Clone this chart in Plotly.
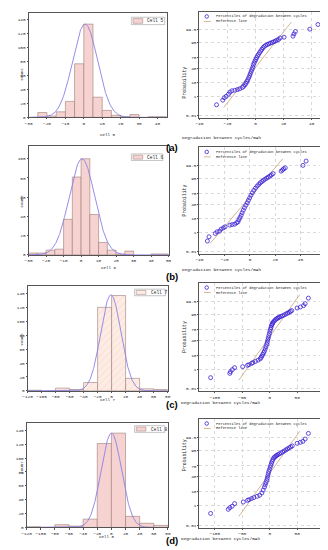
import numpy as np
import plotly.graph_objects as go
from statistics import NormalDist

W, H = 328, 550
ND = NormalDist()

# ---------------- histogram data (bin left edges, counts) ----------------
cell5_bins = [-25, -20, -15, -10, -5, 0, 5, 10, 15, 20, 25, 35, 40]
cell5_counts = [7, 2, 8, 23, 77, 134, 29, 10, 3, 1, 4, 1, 1]
cell6_bins = [-30, -25, -20, -15, -10, -5, 0, 5, 10, 15, 20, 25, 40, 45]
cell6_counts = [2, 2, 5, 6, 37, 81, 100, 42, 13, 5, 1, 4, 1, 1]
cell7_bins = [-120, -80, -60, -40, -20, 0, 20, 40, 60]
cell7_counts = [1, 4, 2, 12, 120, 137, 18, 3, 2]
cell8_bins = [-120, -80, -60, -40, -20, 0, 20, 40, 60]
cell8_counts = [1, 4, 2, 12, 121, 136, 16, 6, 3]
bin_widths = [5, 5, 20, 20]
cell_names = ["Cell 5", "Cell 6", "Cell 7", "Cell 8"]

# fitted normal curve parameters (mean, sd, peak count)
fit_mean = [0.7, 0.5, -1.0, 0.0]
fit_sd = [6.8, 7.3, 14.5, 14.5]
fit_peak = [134, 100, 138, 136]

# histogram tick labels
hist_xticks = [list(range(-30, 41, 10)), list(range(-30, 51, 10)),
               list(range(-120, 81, 20)), list(range(-120, 81, 20))]
hist_yticks = [list(range(0, 141, 20)), list(range(0, 101, 20)),
               list(range(0, 141, 20)), list(range(0, 141, 20))]

# ---------------- probability plot data (degradation mAh, percentile %) ----------------
cell5_deg = [-27.8, -23.4, -22.3, -20.9, -19.3, -18.2, -16.8, -14.7, -12.9, -11.3, -9.4,
             -8.5, -7.5, -6.8, -6.2, -5.5, -4.8, -4.2, -3.7, -3.1, -2.5, -2.0, -1.6, -1.0,
             -0.4, 0.2, 0.75, 1.4, 2.1, 2.9, 3.7, 4.5, 5.3, 6.2, 7.2,
             8.3, 9.5, 10.6, 11.8, 13.0, 14.1, 15.2, 16.4, 17.5,
             20.3, 26.7, 27.4, 28.4, 38.7, 44.5]
cell5_pct = [0.164, 0.466, 0.776, 1.04, 1.54, 2.22, 2.81, 3.07, 3.44, 3.92, 4.75,
             5.7, 7.1, 8.8, 10.9, 13.5, 17.4, 21.5, 26.1, 31.5, 37.1, 43.0, 50.0, 55.5,
             61.0, 65.5, 70.2, 74.5, 78.0, 81.5, 84.6, 87.2, 89.6, 91.2, 92.4,
             93.2, 93.9, 94.5, 95.0, 95.5, 96.0, 96.5, 96.9, 97.6,
             97.9, 98.26, 98.87, 99.29, 99.57, 99.85]

cell6_deg = [-33.7, -32.4, -27.4, -26.1, -24.0, -22.8, -21.0, -19.7, -15.9, -14.1, -12.1, -10.6,
             -9.5, -8.7, -7.9, -7.0, -6.2, -5.3, -4.3, -3.2, -2.2, -1.2, -0.2, 0.8, 1.9, 3.1,
             4.4, 5.7, 7.0, 8.2, 9.5, 10.7, 12.0, 13.3, 14.5, 15.8, 17.0, 18.3,
             24.7, 25.8, 26.7, 28.0, 42.0, 44.5]
cell6_pct = [0.164, 0.427, 0.842, 1.16, 1.32, 1.92, 2.39, 2.87, 3.75, 4.09, 4.36, 5.37,
             6.18, 8.38, 11.1, 14.5, 18.9, 24.5, 30.5, 37.1, 44.0, 51.2, 58.3, 65.5, 71.9, 77.6,
             82.1, 85.8, 88.3, 90.5, 91.9, 93.2, 94.2, 95.1, 95.7, 96.4, 97.0, 97.6,
             98.46, 98.75, 99.01, 99.18, 99.51, 99.81]

cell7_deg = [-107.6, -72.7, -71.5, -68.0, -64.0, -49.3, -40.5, -37.7, -33.0, -30.7, -26.0, -21.3,
             -17.3, -15.8, -14.3, -12.8, -11.2, -9.7, -8.3, -6.9, -5.5, -4.6, -3.6, -2.7, -1.7,
             -0.7, 0.3, 1.3, 2.2, 3.2, 4.1, 5.0, 6.0, 8.0, 10.0, 12.0, 14.0, 15.9, 17.8, 20.6,
             23.5, 26.5, 29.5, 32.4, 35.3, 37.7, 40.0,
             49.8, 55.7, 61.5, 64.4, 70.3]
cell7_pct = [0.181, 0.466, 0.657, 0.99, 1.43, 1.70, 2.17, 2.39, 3.01, 3.36, 4.09, 4.95,
             6.06, 7.35, 8.69, 10.75, 13.1, 15.9, 20.0, 24.8, 30.2, 35.9, 42.1, 48.0, 54.4,
             60.6, 66.6, 71.6, 75.8, 80.0, 82.1, 84.1, 85.8, 87.7, 89.25, 90.5, 91.3, 92.1, 92.65, 93.3,
             93.9, 94.6, 95.25, 95.8, 96.3, 96.8, 97.2,
             98.2, 98.5, 98.84, 99.2, 99.75]

cell8_deg = [-107.6, -75.5, -72.7, -68.5, -64.0, -48.2, -40.5, -37.7, -33.0, -29.0, -23.0, -18.5,
             -14.3, -12.0, -9.7, -8.3, -6.9, -5.5, -4.6, -3.6, -2.7, -1.8, -0.5, 0.8, 2.0, 3.2,
             4.3, 5.8, 7.3, 9.2, 11.0, 12.9, 14.8, 17.7, 20.6, 23.5, 26.4, 29.4, 32.3, 35.2, 38.1, 41.0,
             49.8, 55.7, 60.3, 64.4, 70.3]
cell8_pct = [0.20, 0.49, 0.69, 0.91, 1.50, 1.97, 2.62, 2.94, 3.51, 4.09, 4.95, 5.71,
             7.93, 11.5, 16.1, 20.3, 25.1, 30.5, 36.3, 42.5, 48.8, 55.2, 61.0, 67.0, 71.9, 76.7,
             80.8, 83.9, 86.6, 87.9, 89.1, 90.1, 91.0, 91.9, 92.9, 93.7, 94.5, 95.35, 96.0, 96.6, 97.1, 97.5,
             98.42, 98.68, 98.9, 99.3, 99.79]

# reference lines (end points: degradation, percentile %)
ref_x = [[-22.7, 25.6], [-31.6, 26.0], [-56.3, 54.5], [-56.3, 54.5]]
ref_p = [[0.087, 99.92], [0.09, 99.89], [0.10, 99.89], [0.10, 99.87]]

prob_ticks = [0.01, 1, 10, 40, 70, 95, 99.5]
prob_tick_text = ["0.01", "1", "10", "40", "70", "95", "99.5"]
prob_xticks = [list(range(-40, 41, 20)), list(range(-40, 61, 20)),
               [-100, -50, 0, 50, 100], [-100, -50, 0, 50, 100]]
panel_labels = ["(a)", "(b)", "(c)", "(d)"]

hist_bins = [cell5_bins, cell6_bins, cell7_bins, cell8_bins]
hist_counts = [cell5_counts, cell6_counts, cell7_counts, cell8_counts]
prob_deg = [cell5_deg, cell6_deg, cell7_deg, cell8_deg]
prob_pct = [cell5_pct, cell6_pct, cell7_pct, cell8_pct]

# ---------------- layout (pixel boxes) ----------------
hist_box = [(16, 158, 5, 110), (16, 160, 139, 248.3), (15, 159, 280, 385), (14, 159.3, 417.7, 522.3)]
hist_xrange = [[-30, 45], [-30, 50], [-120, 80], [-120, 80]]
hist_yrange = [[0, 150], [0, 113], [0, 150], [0, 150]]
hist_leg = [(121.7, 156, 9.3, 16.7), (121.7, 154, 146.7, 153.3), (125, 156.7, 282.7, 289.3), (125, 156, 420, 426.7)]
prob_box = [(191.7, 321.5, 4, 110.3), (191.7, 321.5, 140.2, 247.4), (191.7, 320.5, 276.6, 385.4), (191.7, 320.5, 413.3, 522.4)]
prob_xrange = [[-40, 50], [-40, 60], [-128, 100], [-128, 100]]
label_y = [133, 270, 406, 543]

MONO = "Liberation Mono"
TXT = "#222222"
FILL = "#f6d3d0"
FILL7 = "#fdece4"
HATCH = "#eeb3a3"
EDGE = "#9c7c7a"
CURVE = "#8b80e8"
BLUE = "#3b22d6"
TAN = "#c9a27b"
FRAME = "#555555"

ZLIM = 3.89


def PX(x):
    return x / W


def PY(y):
    return 1 - y / H


def ax_common(box, horizontal):
    l, r, t, b = box
    dom = [PX(l), PX(r)] if horizontal else [PY(b), PY(t)]
    return dict(domain=dom, showline=True, mirror=True, linecolor=FRAME, linewidth=0.7,
                ticks="outside", ticklen=1.2, tickwidth=0.6, tickcolor=FRAME,
                tickfont=dict(family=MONO, size=4.4, color=TXT), zeroline=False,
                showgrid=False, fixedrange=True)


fig = go.Figure()
lay = dict(width=W, height=H, margin=dict(l=0, r=0, t=0, b=0), paper_bgcolor="white",
           plot_bgcolor="white", showlegend=False, shapes=[], annotations=[])

for i in range(4):
    hx, hy = f"x{2*i+1}", f"y{2*i+1}"
    px_, py_ = f"x{2*i+2}", f"y{2*i+2}"
    w = bin_widths[i]
    centers = [b + w / 2 for b in hist_bins[i]]
    if i == 2:
        marker = dict(color=FILL7, line=dict(color=EDGE, width=0.6),
                      pattern=dict(shape="/", fgcolor=HATCH, bgcolor=FILL7, size=5,
                                   solidity=0.12, fillmode="overlay"))
    else:
        marker = dict(color=FILL, line=dict(color=EDGE, width=0.6))
    fig.add_trace(go.Bar(x=centers, y=hist_counts[i], width=w, marker=marker,
                         xaxis=hx, yaxis=hy))
    xs = np.linspace(hist_xrange[i][0], hist_xrange[i][1], 400)
    ys = fit_peak[i] * np.exp(-0.5 * ((xs - fit_mean[i]) / fit_sd[i]) ** 2)
    fig.add_trace(go.Scatter(x=xs, y=ys, mode="lines", line=dict(color=CURVE, width=0.9),
                             xaxis=hx, yaxis=hy))

    # probability plot
    rz = [ND.inv_cdf(p / 100) for p in ref_p[i]]
    fig.add_trace(go.Scatter(x=ref_x[i], y=rz, mode="lines", line=dict(color=TAN, width=0.8),
                             xaxis=px_, yaxis=py_))
    z = [ND.inv_cdf(p / 100) for p in prob_pct[i]]
    fig.add_trace(go.Scatter(x=prob_deg[i], y=z, mode="markers",
                             marker=dict(symbol="circle-open", size=4, color=BLUE,
                                         line=dict(width=0.8, color=BLUE)),
                             xaxis=px_, yaxis=py_, cliponaxis=False))

    # axes
    hb = hist_box[i]
    xa = ax_common(hb, True)
    xa.update(range=hist_xrange[i], tickvals=hist_xticks[i], anchor=hy)
    ya = ax_common(hb, False)
    ya.update(range=hist_yrange[i], tickvals=hist_yticks[i], anchor=hx)
    lay["xaxis" if i == 0 else f"xaxis{2*i+1}"] = xa
    lay["yaxis" if i == 0 else f"yaxis{2*i+1}"] = ya

    pb = prob_box[i]
    xa2 = ax_common(pb, True)
    xa2.update(range=prob_xrange[i], tickvals=prob_xticks[i], anchor=py_,
               showgrid=True, gridcolor="#d9d9d9", gridwidth=0.5, griddash="dot")
    ya2 = ax_common(pb, False)
    ya2.update(range=[-ZLIM, ZLIM], tickvals=[ND.inv_cdf(p / 100) for p in prob_ticks],
               ticktext=prob_tick_text, anchor=px_,
               showgrid=True, gridcolor="#d9d9d9", gridwidth=0.5, griddash="dot")
    lay[f"xaxis{2*i+2}"] = xa2
    lay[f"yaxis{2*i+2}"] = ya2

    # axis titles
    l, r, t, b = hb
    lay["annotations"].append(dict(text=cell_names[i], x=PX((l + r) / 2), y=PY(b + 13.5),
                                   xref="paper", yref="paper", showarrow=False,
                                   font=dict(family=MONO, size=4.2, color=TXT)))
    lay["annotations"].append(dict(text="Count", x=PX(5.0), y=PY((t + b) / 2), textangle=-90,
                                   xref="paper", yref="paper", showarrow=False,
                                   font=dict(family=MONO, size=4.2, color=TXT)))
    l2, r2, t2, b2 = pb
    lay["annotations"].append(dict(text="Degradation between cycles/mAh", x=PX((l2 + r2) / 2),
                                   y=PY(b2 + 15.5), xref="paper", yref="paper", showarrow=False,
                                   font=dict(family=MONO, size=4.4, color=TXT)))
    lay["annotations"].append(dict(text="Probability", x=PX(176.5), y=PY((t2 + b2) / 2),
                                   textangle=-90, xref="paper", yref="paper", showarrow=False,
                                   font=dict(family=MONO, size=4.8, color=TXT)))
    lay["annotations"].append(dict(text="<b>" + panel_labels[i] + "</b>", x=PX(163),
                                   y=PY(label_y[i]), xref="paper", yref="paper", showarrow=False,
                                   font=dict(family="Liberation Sans", size=9.5, color="#000")))

    # histogram legend
    L, R, T, B = hist_leg[i]
    lay["shapes"].append(dict(type="rect", xref="paper", yref="paper", x0=PX(L), x1=PX(R),
                              y0=PY(B), y1=PY(T), line=dict(color="#8a8a8a", width=0.5),
                              fillcolor="white"))
    lay["shapes"].append(dict(type="rect", xref="paper", yref="paper", x0=PX(L + 1.7),
                              x1=PX(L + 11.7), y0=PY(B - 1.3), y1=PY(T + 1.3),
                              line=dict(color=EDGE, width=0.5),
                              fillcolor=FILL7 if i == 2 else FILL))
    lay["annotations"].append(dict(text=cell_names[i], x=PX(L + 14.5), y=PY((T + B) / 2),
                                   xanchor="left", yanchor="middle", xref="paper", yref="paper",
                                   showarrow=False, font=dict(family=MONO, size=4.5, color=TXT)))

    # probability legend
    cx, cy = l2 + 7.5, t2 + 4.5
    lay["shapes"].append(dict(type="circle", xref="paper", yref="paper", x0=PX(cx - 1.8),
                              x1=PX(cx + 1.8), y0=PY(cy + 1.8), y1=PY(cy - 1.8),
                              line=dict(color=BLUE, width=0.8)))
    lay["shapes"].append(dict(type="line", xref="paper", yref="paper", x0=PX(l2 + 4.5),
                              x1=PX(l2 + 11.5), y0=PY(t2 + 9.5), y1=PY(t2 + 9.5),
                              line=dict(color=TAN, width=0.8)))
    lay["annotations"].append(dict(text="Percentiles of degradation between cycles",
                                   x=PX(l2 + 15), y=PY(cy), xanchor="left", yanchor="middle",
                                   xref="paper", yref="paper", showarrow=False,
                                   font=dict(family=MONO, size=3.7, color=TXT)))
    lay["annotations"].append(dict(text="Reference line", x=PX(l2 + 15), y=PY(t2 + 9.5),
                                   xanchor="left", yanchor="middle", xref="paper", yref="paper",
                                   showarrow=False, font=dict(family=MONO, size=3.7, color=TXT)))

fig.update_layout(**lay)
fig.write_html("out.html")
